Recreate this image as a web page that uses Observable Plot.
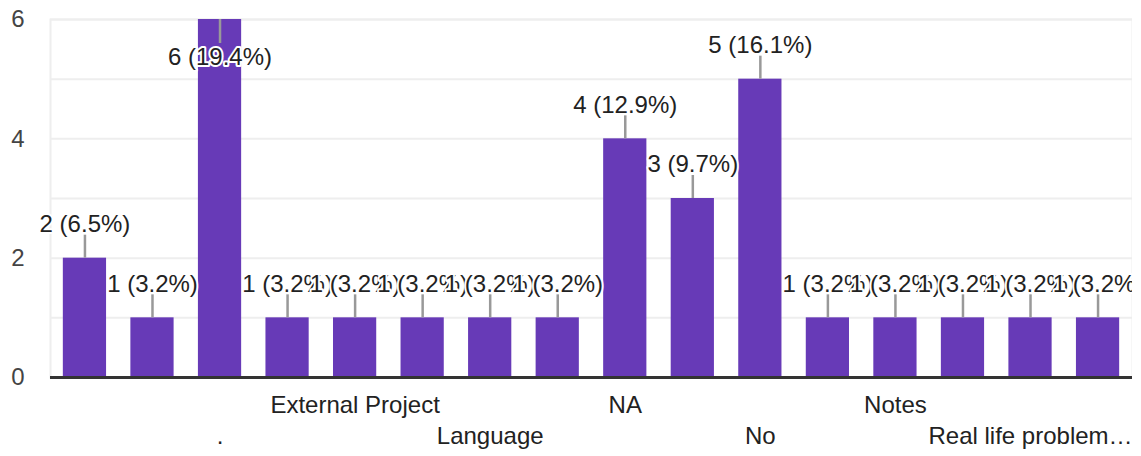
<!DOCTYPE html>
<html>
<head>
<meta charset="utf-8">
<script src="https://cdn.jsdelivr.net/npm/d3@7"></script>
<script src="https://cdn.jsdelivr.net/npm/@observablehq/plot@0.6"></script>
<style>
  html, body { margin: 0; padding: 0; background: #fff; }
  #chart svg { display: block; clip-path: inset(0 9px 0 0); }
</style>
</head>
<body>
<div id="chart"></div>
<script>
// Category tick labels (only the ones legible in the reference are filled in)
const tickLabels = ["", "", ".", "", "External Project", "", "Language", "", "NA", "", "No", "", "Notes", "", "Real life problem…", ""];
// Response counts per category
const counts = [2, 1, 6, 1, 1, 1, 1, 1, 4, 3, 5, 1, 1, 1, 1, 1];
// Y axis tick labels
const yTickLabels = [0, 2, 4, 6];
const yGrid = [0, 1, 2, 3, 4, 5, 6];

const total = d3.sum(counts);
const data = counts.map((v, i) => ({
  i,
  value: v,
  name: tickLabels[i],
  label: `${v} (${(v / total * 100).toFixed(1)}%)`
}));

const W = 1141, H = 456;
const mT = 19, mB = 79, mL = 50, mR = 9;
const yMax = 6;
const unitPx = (H - mT - mB) / yMax;
const inside = d => d.value * unitPx + 40 > yMax * unitPx;

const font = "'Liberation Sans', Arial, sans-serif";
const fs = 24;

const chart = Plot.plot({
  width: W,
  height: H,
  marginTop: mT,
  marginBottom: mB,
  marginLeft: mL,
  marginRight: mR,
  style: { fontFamily: font, background: "#fff", overflow: "visible" },
  x: { type: "band", domain: d3.range(counts.length), paddingInner: 0.36, paddingOuter: 0.19, round: false, axis: null },
  y: { domain: [0, yMax], axis: null },
  marks: [
    Plot.ruleY(yGrid, { stroke: "#eeeeee", strokeWidth: 2 }),
    Plot.frame({ stroke: "#eeeeee", strokeWidth: 2 }),
    Plot.text(yTickLabels, {
      y: d => d, text: d => String(d), frameAnchor: "left",
      textAnchor: "end", dx: -26, fontSize: fs, fill: "#444"
    }),
    Plot.barY(data, { x: "i", y: "value", fill: "#673ab7" }),
    Plot.ruleY([0], { stroke: "#333", strokeWidth: 3 }),
    Plot.ruleX(data, {
      x: "i",
      y1: "value",
      y2: d => inside(d) ? d.value - 24 / unitPx : d.value + 23 / unitPx,
      stroke: "#999", strokeWidth: 2.5
    }),
    Plot.text(data, {
      x: "i", y: "value", text: "label",
      fontSize: fs, fill: "#222",
      stroke: "white", strokeWidth: 4,
      filter: d => !inside(d), dy: -34
    }),
    Plot.text(data, {
      x: "i", y: "value", text: "label",
      fontSize: fs, fill: "#222",
      stroke: "white", strokeWidth: 4,
      filter: d => inside(d), dy: 38
    }),
    Plot.text(data.filter(d => d.i % 4 === 0), {
      x: "i", text: "name", frameAnchor: "bottom", dy: 35,
      fontSize: fs, fill: "#222"
    }),
    Plot.text(data.filter(d => d.i % 4 === 2), {
      x: "i", text: "name", frameAnchor: "bottom", dy: 66,
      fontSize: fs, fill: "#222"
    })
  ]
});

document.getElementById("chart").appendChild(chart);
</script>
</body>
</html>
